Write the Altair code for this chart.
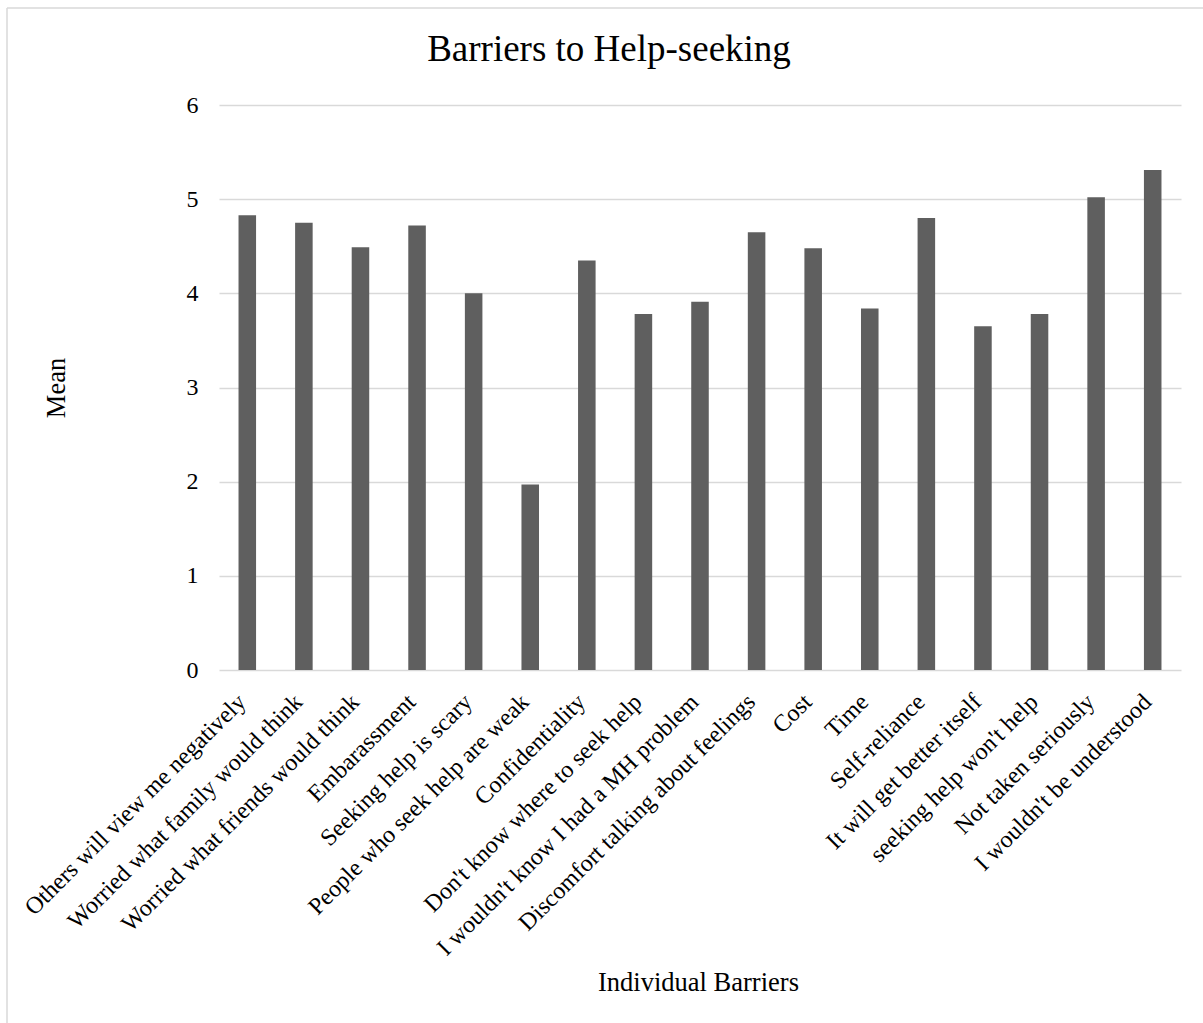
import altair as alt
import pandas as pd

# Survey results: mean rating per barrier to help-seeking
barriers = [
    "Others will view me negatively",
    "Worried what family would think",
    "Worried what friends would think",
    "Embarassment",
    "Seeking help is scary",
    "People who seek help are weak",
    "Confidentiality",
    "Don't know where to seek help",
    "I wouldn't know I had a MH problem",
    "Discomfort talking about feelings",
    "Cost",
    "Time",
    "Self-reliance",
    "It will get better itself",
    "seeking help won't help",
    "Not taken seriously",
    "I wouldn't be understood",
]
means = [4.83, 4.75, 4.49, 4.72, 4.00, 1.97, 4.35, 3.78, 3.91, 4.65,
         4.48, 3.84, 4.80, 3.65, 3.78, 5.02, 5.31]
y_ticks = [0, 1, 2, 3, 4, 5, 6]

df = pd.DataFrame({"Barrier": barriers, "Mean": means})

FONT = "Liberation Serif"
GRID = "#d9d9d9"
BAR = "#5f5f5f"
W, H = 962, 565
PAD = {"left": 219, "top": 105, "right": 22, "bottom": 353}

bars = alt.Chart(df).mark_bar(color=BAR).encode(
    x=alt.X(
        "Barrier:N",
        sort=barriers,
        scale=alt.Scale(paddingInner=0.69, paddingOuter=0.345),
        axis=alt.Axis(
            title="Individual Barriers",
            titleFont=FONT,
            titleFontSize=26.5,
            titleFontWeight="normal",
            titleColor="#000000",
            titleX=W / 2 - 2,
            titleY=320,
            titleBaseline="alphabetic",
            labelAngle=-45,
            labelAlign="right",
            labelBaseline="middle",
            labelPadding=28,
            labelOffset=-5,
            labelFont=FONT,
            labelFontSize=24,
            labelColor="#000000",
            labelLimit=0,
            labelOverlap=False,
            ticks=False,
            tickSize=0,
            domain=False,
        ),
    ),
    y=alt.Y(
        "Mean:Q",
        scale=alt.Scale(domain=[0, 6], nice=False),
        axis=alt.Axis(
            title="Mean",
            values=y_ticks,
            titleFont=FONT,
            titleFontSize=26.5,
            titleFontWeight="normal",
            titleColor="#000000",
            titleX=-163,
            titleBaseline="middle",
            labelFont=FONT,
            labelFontSize=24,
            labelColor="#000000",
            labelPadding=21,
            ticks=False,
            tickSize=0,
            domain=False,
            grid=True,
            gridColor=GRID,
            gridWidth=1.4,
        ),
    ),
)

# Outer frame lines of the chart area (left and top edges)
frame_df = pd.DataFrame({"k": [0]})
frame_left = alt.Chart(frame_df).mark_rule(color=GRID, strokeWidth=1.5).encode(
    x=alt.value(-212), y=alt.value(-97), y2=alt.value(H + PAD["bottom"])
)
frame_top = alt.Chart(frame_df).mark_rule(color=GRID, strokeWidth=1.5).encode(
    y=alt.value(-97), x=alt.value(-212), x2=alt.value(W + PAD["right"])
)

chart = (
    alt.layer(frame_left, frame_top, bars)
    .properties(
        width=W,
        height=H,
        autosize="none",
        padding=PAD,
        background="#ffffff",
        title=alt.TitleParams(
            text="Barriers to Help-seeking",
            font=FONT,
            fontSize=37,
            fontWeight="normal",
            color="#000000",
            anchor="middle",
            frame="group",
            baseline="alphabetic",
            dx=-91,
            offset=-91,
        ),
    )
    .configure_view(stroke=None)
)

chart.save("out.html", embed_options={"renderer": "svg", "actions": False})
